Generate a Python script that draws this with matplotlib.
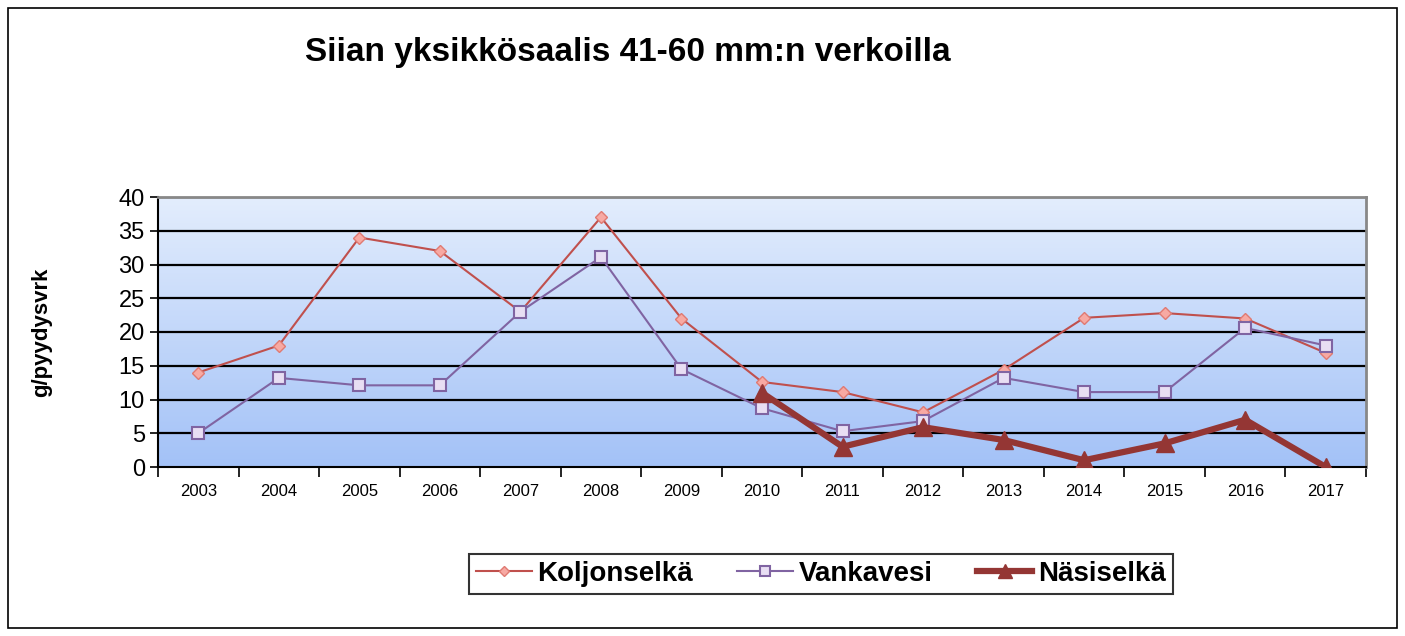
import numpy as np
import matplotlib.pyplot as plt
from matplotlib.patches import Rectangle

plt.rcParams["font.family"] = ["Liberation Sans", "DejaVu Sans"]

years = ["2003", "2004", "2005", "2006", "2007", "2008", "2009", "2010",
         "2011", "2012", "2013", "2014", "2015", "2016", "2017"]
koljonselka = [14, 18, 34, 32, 23, 37, 22, 12.6, 11.1, 8.1, 14.4, 22.1, 22.8, 22, 16.9]
vankavesi = [5, 13.2, 12.1, 12.1, 23, 31.1, 14.5, 8.7, 5.3, 6.8, 13.2, 11.1, 11.1, 20.6, 18]
nasiselka = [np.nan] * 7 + [11, 3, 5.9, 4, 1, 3.5, 7, 0]

fig = plt.figure(figsize=(14.05, 6.36), dpi=100)
ax = fig.add_axes([158 / 1405, 1 - 467 / 636, (1366 - 158) / 1405, (467 - 197) / 636])

x = np.arange(len(years))

# gradient background, light at top, darker blue at bottom
grad = np.linspace(0, 1, 256).reshape(-1, 1)
top = np.array([0.89, 0.93, 0.99])
bot = np.array([0.64, 0.76, 0.97])
img = top + (bot - top) * grad[..., None]
ax.imshow(img, extent=[-0.5, 14.5, 0, 40], aspect="auto", origin="upper", zorder=0)

for yv in range(5, 41, 5):
    ax.axhline(yv, color="black", lw=1.6, zorder=1)

ax.plot(x, koljonselka, color="#c0504d", lw=1.5, marker="D", ms=6,
        mfc="#f7a9a3", mec="#e07a72", mew=1, label="Koljonselkä", zorder=3)
ax.plot(x, vankavesi, color="#8064a2", lw=1.5, marker="s", ms=9,
        mfc="#e8def3", mec="#8064a2", mew=1.5, label="Vankavesi", zorder=3)
ax.plot(x, nasiselka, color="#943634", lw=4.5, marker="^", ms=13,
        mfc="#943634", mec="#943634", label="Näsiselkä", zorder=4)

ax.set_xlim(-0.5, 14.5)
ax.set_ylim(0, 40)
ax.set_yticks(range(0, 41, 5))
ax.tick_params(axis="y", labelsize=17, length=6, width=1.2, direction="out")
ax.set_xticks(np.arange(-0.5, 15, 1))
ax.set_xticklabels([])
ax.set_xticks(x, minor=True)
ax.set_xticklabels(years, minor=True, fontsize=12)
ax.tick_params(axis="x", which="minor", length=0, pad=12)
ax.tick_params(axis="x", which="major", length=7, width=1.2, direction="out")

ax.spines["left"].set_linewidth(1.5)
ax.spines["bottom"].set_linewidth(1.5)
ax.spines["top"].set_color("#888888")
ax.spines["top"].set_linewidth(2)
ax.spines["right"].set_color("#888888")
ax.spines["right"].set_linewidth(2)

fig.text(42 / 1405, 1 - 332 / 636, "g/pyydysvrk", fontsize=16, fontweight="bold",
         rotation=90, ha="center", va="center")

fig.text(305 / 1405, 1 - 52 / 636, "Siian yksikkösaalis 41-60 mm:n verkoilla",
         fontsize=24, fontweight="bold", ha="left", va="center")

leg = fig.legend(loc="center", bbox_to_anchor=(821 / 1405, 1 - 574 / 636), ncol=3,
                 prop={"weight": "bold", "size": 20}, frameon=True,
                 fancybox=False, edgecolor="black", handlelength=2.0,
                 handletextpad=0.2, columnspacing=1.6, borderpad=0.25,
                 markerscale=0.8)
leg.get_frame().set_linewidth(1.5)

fig.patches.append(Rectangle((8 / 1405, 8 / 636), 1389 / 1405, 620 / 636,
                             transform=fig.transFigure, fill=False,
                             edgecolor="black", lw=1.2))

fig.savefig("out.png", dpi=100)
